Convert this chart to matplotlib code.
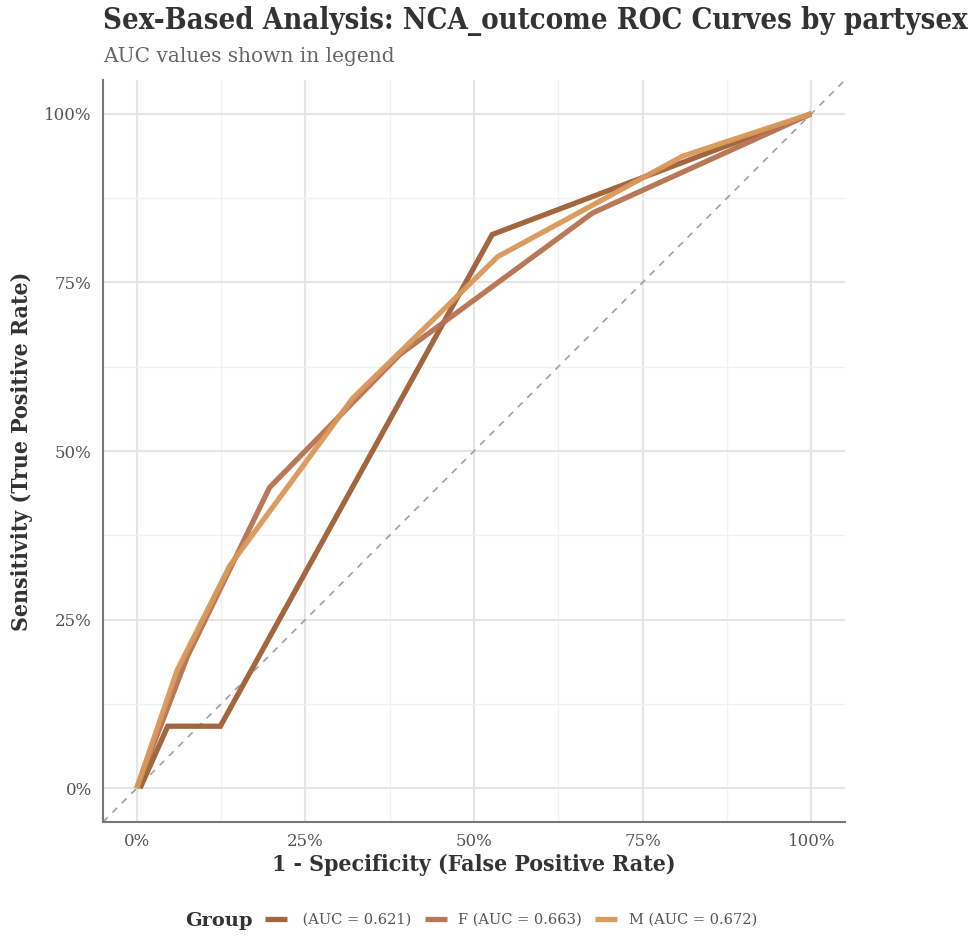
import matplotlib

matplotlib.use("Agg")
import matplotlib.pyplot as plt
from matplotlib.ticker import FuncFormatter, MultipleLocator

# ROC points per partysex group (FPR, TPR)
group_labels = [" (AUC = 0.621)", "F (AUC = 0.663)", "M (AUC = 0.672)"]
fpr_blank = [0.005, 0.046, 0.124, 0.527, 1.0]
tpr_blank = [0.0, 0.092, 0.092, 0.821, 1.0]
fpr_f = [0.0, 0.075, 0.197, 0.39, 0.676, 1.0]
tpr_f = [0.0, 0.195, 0.446, 0.643, 0.853, 1.0]
fpr_m = [0.0, 0.06, 0.138, 0.32, 0.535, 0.809, 1.0]
tpr_m = [0.0, 0.175, 0.33, 0.578, 0.788, 0.937, 1.0]

colors = ["#9e5f36", "#b6714f", "#d9975a"]
serif = ["DejaVu Serif"]

fig = plt.figure(figsize=(9.76, 9.36), dpi=100)
ax = fig.add_axes([0.1055, 0.1218, 0.7603, 0.7927])

ax.plot([-0.05, 1.05], [-0.05, 1.05], color="#a0a0a0", linestyle=(0, (4, 4)), linewidth=1.2, zorder=1)
for fx, ty, label, color in zip(
    [fpr_blank, fpr_f, fpr_m], [tpr_blank, tpr_f, tpr_m], group_labels, colors
):
    ax.plot(fx, ty, color=color, linewidth=3.8, alpha=0.95, label=label,
            solid_capstyle="butt", solid_joinstyle="miter", zorder=3)

ax.set_xlim(-0.05, 1.05)
ax.set_ylim(-0.05, 1.05)
pct = FuncFormatter(lambda v, _: f"{v * 100:.0f}%")
for axis in (ax.xaxis, ax.yaxis):
    axis.set_major_locator(MultipleLocator(0.25))
    axis.set_minor_locator(MultipleLocator(0.125))
    axis.set_major_formatter(pct)
ax.grid(which="major", color="#e4e4e4", linewidth=1.5)
ax.grid(which="minor", color="#f1f1f1", linewidth=1.0)
ax.set_axisbelow(True)
ax.tick_params(which="both", length=0, pad=8, labelsize=12, labelcolor="#555555")
for lab in ax.get_xticklabels() + ax.get_yticklabels():
    lab.set_family(serif)
for side in ("top", "right"):
    ax.spines[side].set_visible(False)
for side in ("left", "bottom"):
    ax.spines[side].set_color("#777777")
    ax.spines[side].set_linewidth(1.5)

ax.set_xlabel("1 - Specificity (False Positive Rate)", fontsize=16.5, fontweight="bold",
              family=serif, color="#333333", stretch="condensed", labelpad=3)
ax.set_ylabel("Sensitivity (True Positive Rate)", fontsize=16.5, fontweight="bold",
              family=serif, color="#333333", stretch="condensed", labelpad=8)

fig.text(0.1055, 0.978, "Sex-Based Analysis: NCA_outcome ROC Curves by partysex",
         fontsize=21, fontweight="bold", family=serif, color="#333333",
         stretch="condensed", va="center", ha="left")
fig.text(0.1055, 0.940, "AUC values shown in legend", fontsize=14.5, family=serif,
         color="#666666", va="center", ha="left")

fig.text(0.19, 0.016, "Group", fontsize=14, fontweight="bold", family=serif,
         color="#333333", va="center", ha="left")
handles, labels = ax.get_legend_handles_labels()
fig.legend(handles, labels, loc="center left", bbox_to_anchor=(0.258, 0.017),
           ncol=3, frameon=False, handlelength=1.5, handletextpad=0.8, columnspacing=0.9,
           prop={"family": serif, "size": 10.5}, labelcolor="#555555")

fig.savefig("out.png", dpi=100, facecolor="white")
